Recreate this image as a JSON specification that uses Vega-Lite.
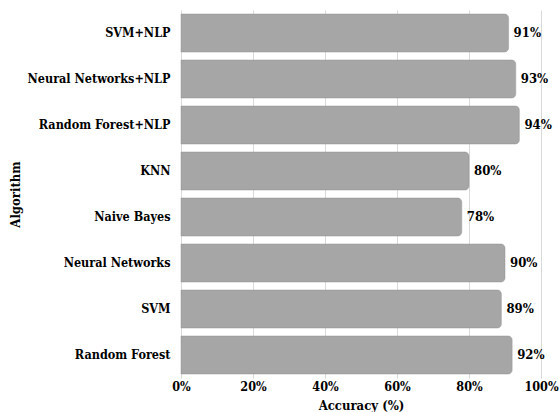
{
  "$schema": "https://vega.github.io/schema/vega-lite/v6.json",
  "width": 360,
  "height": 368,
  "autosize": {"type": "none"},
  "padding": {"left": 181, "top": 10, "right": 19, "bottom": 34},
  "background": "white",
  "config": {
    "view": {"stroke": null},
    "font": "DejaVu Serif Condensed",
    "axis": {
      "labelFont": "DejaVu Serif Condensed",
      "titleFont": "DejaVu Serif Condensed",
      "labelFontWeight": "bold",
      "titleFontWeight": "bold",
      "labelColor": "#000000",
      "titleColor": "#000000",
      "labelFontSize": 12.5,
      "titleFontSize": 13
    }
  },
  "data": {
    "values": [
      {"algorithm": "SVM+NLP", "accuracy": 0.91},
      {"algorithm": "Neural Networks+NLP", "accuracy": 0.93},
      {"algorithm": "Random Forest+NLP", "accuracy": 0.94},
      {"algorithm": "KNN", "accuracy": 0.80},
      {"algorithm": "Naive Bayes", "accuracy": 0.78},
      {"algorithm": "Neural Networks", "accuracy": 0.90},
      {"algorithm": "SVM", "accuracy": 0.89},
      {"algorithm": "Random Forest", "accuracy": 0.92}
    ]
  },
  "encoding": {
    "y": {
      "field": "algorithm",
      "type": "nominal",
      "sort": null,
      "scale": {"paddingInner": 0.174, "paddingOuter": 0.087},
      "axis": {
        "title": "Algorithm",
        "ticks": false,
        "domain": false,
        "labelPadding": 11,
        "titleX": -166,
        "titleY": 184,
        "titleAngle": -90,
        "titleAlign": "center",
        "titleBaseline": "middle",
        "labelLimit": 200
      }
    },
    "x": {
      "field": "accuracy",
      "type": "quantitative",
      "scale": {"domain": [0, 1], "nice": false},
      "axis": {
        "title": "Accuracy (%)",
        "format": ".0%",
        "values": [0, 0.2, 0.4, 0.6, 0.8, 1],
        "ticks": false,
        "domain": false,
        "grid": true,
        "gridColor": "#d9d9d9",
        "gridWidth": 1,
        "labelPadding": 2,
        "labelFlush": false,
        "labelOverlap": false,
        "titleY": 27,
        "titleBaseline": "middle"
      }
    }
  },
  "layer": [
    {
      "mark": {"type": "bar", "color": "#a6a6a6", "stroke": "#9a9a9a", "strokeWidth": 0.5, "cornerRadiusEnd": 4}
    },
    {
      "mark": {"type": "text", "align": "left", "baseline": "middle", "dx": 5, "font": "DejaVu Serif Condensed", "fontWeight": "bold", "fontSize": 13, "color": "#000000"},
      "encoding": {
        "text": {"field": "accuracy", "type": "quantitative", "format": ".0%"}
      }
    }
  ]
}
